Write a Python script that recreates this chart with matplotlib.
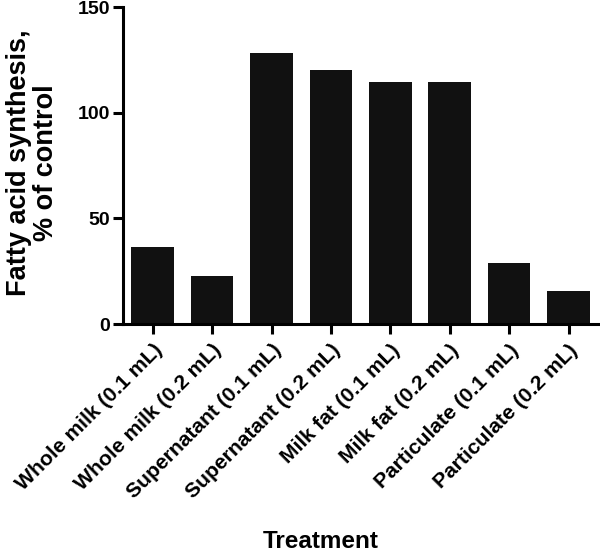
import matplotlib
matplotlib.use("Agg")
import matplotlib.pyplot as plt
from matplotlib.transforms import ScaledTranslation

categories = ["Whole milk (0.1 mL)", "Whole milk (0.2 mL)", "Supernatant (0.1 mL)",
              "Supernatant (0.2 mL)", "Milk fat (0.1 mL)", "Milk fat (0.2 mL)",
              "Particulate (0.1 mL)", "Particulate (0.2 mL)"]
values = [36.5, 22.6, 128.5, 120.5, 114.5, 114.5, 28.7, 15.7]
yticks = [0, 50, 100, 150]

plt.rcParams['font.family'] = ['Liberation Sans', 'DejaVu Sans']
plt.rcParams['font.weight'] = 'bold'

fig = plt.figure(figsize=(6, 5.53), dpi=100)
ax = fig.add_axes([0.205, 0.414, 0.792, 0.573])
x = list(range(len(categories)))
ax.bar(x, values, width=0.72, color='#111111', edgecolor='none')
ax.set_xlim(-0.5, len(categories) - 0.5)
ax.set_ylim(0, 150)
ax.set_yticks(yticks)
ax.set_xticks(x)
ax.set_xticklabels(categories, rotation=45, ha='right', rotation_mode='anchor',
                   fontsize=15.2, fontweight='bold')
off = ScaledTranslation(-3 / 72, -5 / 72, fig.dpi_scale_trans)
for lab in ax.get_xticklabels():
    lab.set_transform(lab.get_transform() + off)
for lab in ax.get_yticklabels():
    lab.set_fontsize(14)
    lab.set_fontweight('bold')
for s in ['top', 'right']:
    ax.spines[s].set_visible(False)
for s in ['left', 'bottom']:
    ax.spines[s].set_linewidth(2.2)
ax.tick_params(axis='both', direction='out', length=7, width=2.2)
ax.tick_params(axis='y', pad=2.5)
ax.tick_params(axis='x', pad=5)
ax.set_ylabel("Fatty acid synthesis,\n% of control", fontsize=19.5, fontweight='bold',
              linespacing=1.05)
ax.yaxis.set_label_coords(-0.134, 0.51)
fig.text(0.535, 1 - 548 / 553, "Treatment", ha='center', va='baseline',
         fontsize=17.5, fontweight='bold')
fig.savefig("out.png", dpi=100)
